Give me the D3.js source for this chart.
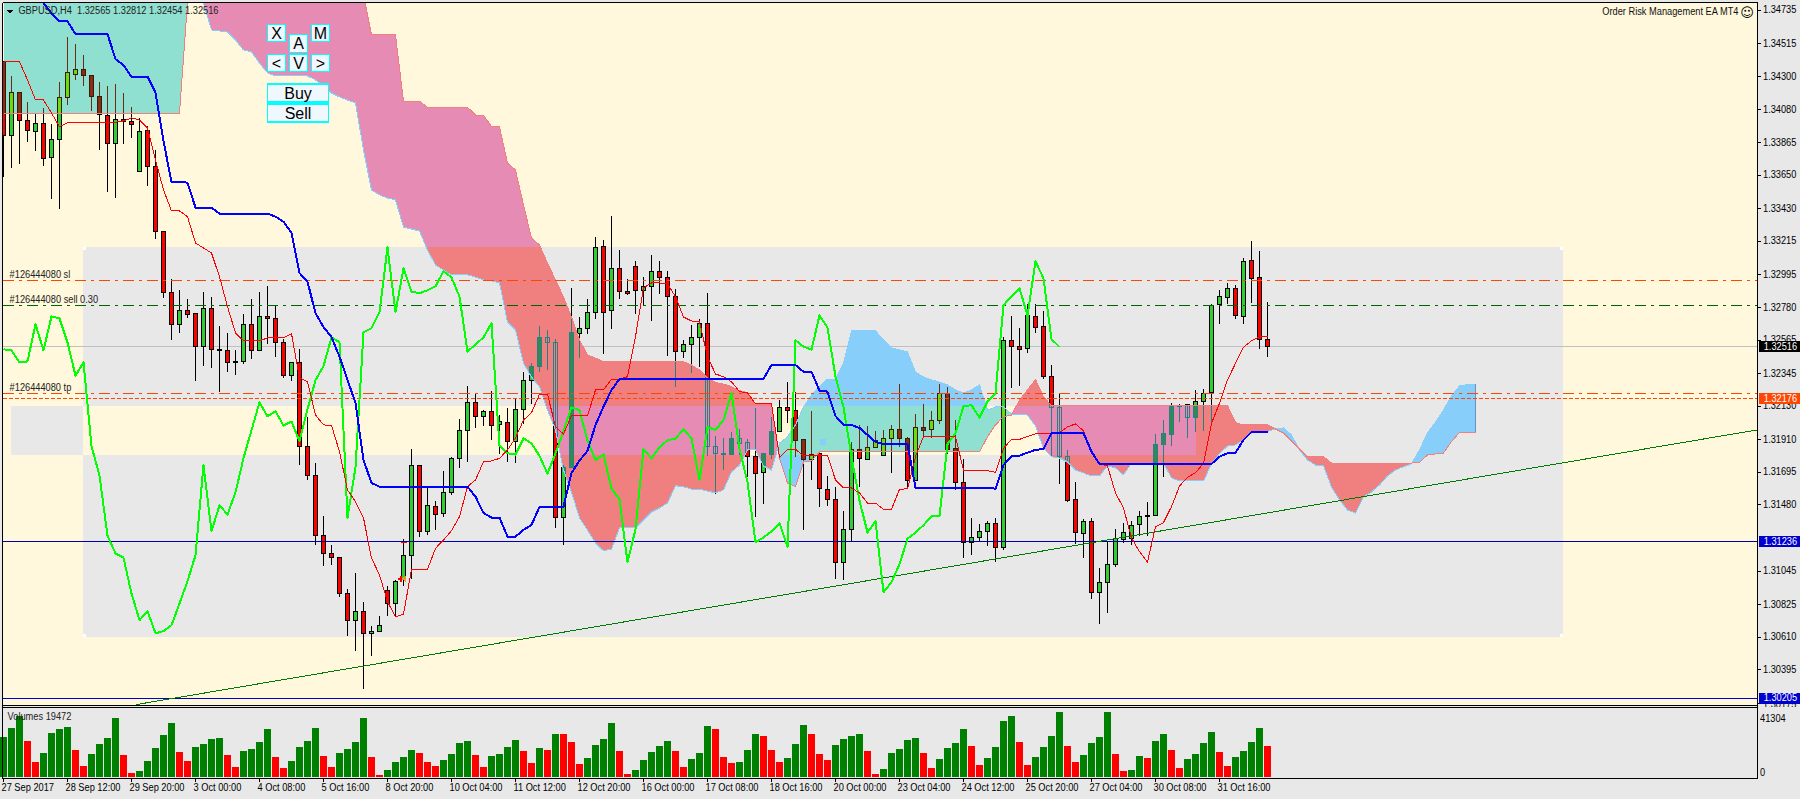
<!DOCTYPE html>
<html><head><meta charset="utf-8">
<style>
html,body{margin:0;padding:0;background:#e8e8e8;overflow:hidden}
svg{display:block}
text{font-family:"Liberation Sans",Arial,sans-serif;font-size:10px;fill:#000}
</style>
<script src="https://cdn.jsdelivr.net/npm/d3@7/dist/d3.min.js"></script>
</head><body>
<svg id="c" width="1800" height="799"></svg>
<script>
// All prices below are in points (1/100000).
const opens=[134393,133906,134191,134005,133932,133987,133763,133882,134158,134310,134342,134303,134165,134038,133856,134013,134000,133671,133941,133704,133277,132875,132665,132757,132737,132520,132768,132500,132492,132415,132421,132665,132494,132717,132704,132546,132327,
132415,131863,131672,131277,131159,131132,130896,130718,130777,130632,130646,130915,130828,130994,131146,131738,131303,131468,131422,131560,131784,131968,132152,132060,132093,132007,132021,131896,132106,132299,132387,
132579,132547,131393,131724,132604,132639,132744,133178,132757,133033,132882,133047,132887,132913,133014,132974,132849,132485,132533,132579,132672,131862,131816,131808,131915,131889,131797,131691,131810,131961,132119,132099,131904,131777,131812,131579,131514,131099,131316,131843,
131777,131856,131803,131915,131974,131915,131639,131988,131974,132034,132211,131849,131626,131231,131262,131301,131356,131198,132560,132520,132505,132718,132652,132323,132119,131795,131514,131290,
131369,130902,130968,131086,131251,131257,131347,131400,131407,131876,131940,132126,132135,132051,132157,132216,132795,132841,132902,132716,133086,132975,132565];
const highs=[134393,134305,134191,134134,134049,134092,133987,134263,134560,134513,134437,134303,134263,134237,134250,134191,134099,134027,133974,133816,133283,132967,132891,132836,132742,132878,132851,132660,132608,132496,132737,132838,132884,132921,132790,132573,132415,
132503,132056,131753,131404,131214,131132,130929,131029,130839,130681,130746,130944,130983,131253,131845,131738,131597,131503,131705,131797,132043,132260,132209,132106,132227,132073,132115,132176,132352,132415,132659,
132632,132573,131744,132908,132718,132832,133246,133226,133384,133154,132968,133082,132981,133121,133082,133022,132902,132562,132661,132700,132876,131935,131917,131957,131981,131911,132115,131816,132058,132167,132286,132222,131904,132097,131816,131667,131601,131437,131893,132009,
132001,131963,131970,132003,132277,131928,132075,132141,132097,132277,132253,132040,131784,131395,131356,131376,131395,132584,132720,132645,132799,132799,132759,132402,132209,131838,131628,131389,
131396,131062,131240,131323,131363,131371,131439,131497,131944,132036,132150,132146,132139,132233,132240,132799,132891,132937,132929,133106,133214,133148,132812];
const lows=[133636,133695,133720,133867,133807,133709,133492,133426,134108,134274,134237,134075,133814,133538,133498,133853,133895,133671,133577,133228,132840,132564,132610,132709,132294,132393,132380,132222,132353,132334,132406,132443,132494,132540,132452,132316,132294,
131740,131641,131214,131078,131082,130871,130615,130518,130268,130483,130646,130749,130744,130944,130994,131266,131279,131312,131400,131547,131720,131762,131983,131996,131904,131812,131760,131755,132014,132146,132352,
132365,131327,131215,131724,132446,132604,132702,132476,132636,132832,132860,132733,132797,132689,132869,132463,132255,132446,132345,132387,131805,131549,131707,131808,131810,131663,131400,131483,131783,131959,132018,131794,131312,131645,131465,131472,130992,130983,131240,131601,
131773,131856,131803,131691,131860,131586,131639,131926,131920,132012,131817,131577,131130,131148,131235,131207,131104,131183,132248,132262,132479,132608,132308,131795,131617,131496,131220,131128,
130860,130696,130768,131071,131229,131214,131277,131275,131407,131663,131865,132025,131918,131961,131966,132010,132670,132799,132703,132670,132806,132503,132454];
const closes=[133906,134191,134005,133941,133987,133755,133882,134158,134323,134340,134301,134163,134044,133856,134013,133998,133978,133935,133704,133277,132873,132665,132757,132731,132520,132768,
132500,132494,132415,132421,132665,132494,132717,132704,132546,132327,132415,131863,131670,131275,131157,131130,130893,130718,130777,130632,130646,130685,130828,130975,131146,131738,131303,131475,131413,131560,131784,131968,132152,132060,132093,131999,132025,131896,132106,132297,132389,132580,
132547,131393,131724,132612,132639,132744,133172,132744,133033,132880,132869,132889,132915,133014,132974,132847,132485,132533,132579,132672,131865,131816,131808,131915,131882,131799,131683,131816,131961,132119,132099,131900,131772,131808,131584,131514,131099,131316,131843,131783,
131856,131902,131913,131974,131915,131639,131988,131970,132034,132211,131845,131626,131231,131262,131303,131356,131198,132560,132518,132498,132724,132643,132321,132119,131795,131505,131295,131369,
130902,130968,131086,131255,131295,131343,131402,131404,131876,131948,132126,132133,132051,132157,132211,132790,132850,132902,132722,133080,132966,132567,132516];
const kijun=[null,null,null,null,null,134779,134711,134659,134659,134575,134575,134575,134575,134575,134409,134371,134294,134294,134294,134189,133871,133601,133601,133597,133432,133432,133432,133393,133393,133393,133393,133393,133393,133393,133373,133340,133266,133003,132945,132739,132647,132582,132452,132299,132147,131772,131621,
131597,131597,131597,131597,131597,131597,131597,131597,131597,131597,131597,131597,131531,131423,131393,131393,131268,131268,131312,131345,131463,131463,131465,131465,131687,131768,131833,132003,132123,132233,
132305,132305,132305,132305,132305,132305,132305,132305,132305,132305,132305,132305,132305,132305,132305,132305,132305,132305,132305,132397,132397,132397,132397,132353,132353,132228,132222,132062,132003,132003,131983,131937,131891,131877,131877,131877,131877,
131590,131590,131590,131590,131590,131590,131590,131590,131590,131590,131583,131739,131796,131801,131820,131840,131843,131950,131950,131950,131950,131950,131827,
131746,131746,131746,131746,131746,131746,131746,131746,131746,131746,131746,131746,131746,131746,131746,131794,131816,131820,131904,131956,131956,131956];
const tenkan=[134393,134393,134393,134273,134141,134141,134055,133965,133992,133994,133994,133994,133994,133994,133994,134003,134023,134009,133957,133746,133549,133411,133411,133373,133200,133167,133134,132978,132781,132608,132557,132557,132557,132575,132575,132577,132603,132312,132287,132068,132003,132000,131827,131575,131498,131391,131127,131016,130840,130741,130757,131053,131053,131053,131191,131246,131307,131399,131597,131641,131761,131766,131783,131838,131917,132035,132083,132205,132205,
131991,131943,132062,132062,132062,132233,132233,132303,132305,132320,132584,132904,132937,132937,132930,132847,132713,132687,132682,132452,132338,132320,132287,132222,132215,132141,132141,132141,131790,131843,131843,131799,131803,131805,131800,131641,131588,131588,131555,131489,131489,131448,131448,131579,131583,131794,
131926,131926,131926,131926,131926,131706,131706,131706,131702,131691,131849,131908,131908,131926,131945,131948,131950,131952,131991,132009,131965,131818,131746,131733,131555,131456,131259,131169,131101,131333,131360,131465,131601,131658,131689,131750,132014,132145,132299,132408,132514,132557,132584,132584];
const chikou=[132500,132494,132415,132421,132665,132494,132717,132704,132546,132327,132415,131863,131670,131275,131157,131130,130893,130718,130777,130632,130646,130685,130828,130975,131146,131738,131303,131475,131413,131560,131784,131968,132152,132060,132093,131999,132025,131896,132106,132297,132389,132580,
132547,131393,131724,132612,132639,132744,133172,132744,133033,132880,132869,132889,132915,133014,132974,132847,132485,132533,132579,132672,131865,131816,131808,131915,131882,131799,131683,131816,131961,132119,132099,131900,131772,131808,131584,131514,131099,131316,131843,131783,
131856,131902,131913,131974,131915,131639,131988,131970,132034,132211,131845,131626,131231,131262,131303,131356,131198,132560,132518,132498,132724,132643,132321,132119,131795,131505,131295,131369,
130902,130968,131086,131255,131295,131343,131402,131404,131876,131948,132126,132133,132051,132157,132211,132790,132850,132902,132722,133080,132966,132567,132516];
const spanA=[
135000,135000,135000,135000,135000,135000,135000,135000,135000,135000,
135000,135000,135000,135000,135000,135000,135000,135000,135000,135000,
135000,135000,135000,135000,135000,134779,134602,134595,134588,134536,
134470,134457,134384,134319,134299,134299,134299,134299,134299,134273,
134233,134187,134161,134141,134121,133812,133549,133516,133496,133483,
133305,133292,133279,133154,133055,133022,132990,132990,132990,132976,
132957,132950,132937,132680,132628,132410,132318,132253,132101,131970,
131706,131562,131391,131312,131226,131175,131185,131325,131325,131325,
131377,131430,131456,131489,131603,131595,131581,131581,131568,131555,
131575,131693,131739,131838,131838,131733,131706,131884,131924,132003,
132121,132200,132253,132305,132305,132410,132621,132621,132621,132621,
132562,132509,132496,132483,132351,132318,132299,132285,132266,132233,
132213,132233,132266,132101,132121,132121,132075,132070,132068,131996,
131851,131794,131785,131759,131706,131687,131667,131667,131733,131720,
131674,131752,131752,131752,131752,131752,131654,131634,131634,131634,
131634,131746,131815,131864,131871,131904,131950,131956,131960,131976,
131983,131937,131838,131772,131739,131733,131595,131509,131443,131423,
131529,131562,131608,131667,131706,131728,131746,131838,131950,132022,
132101,132193,132259,132269,132272];
const spanB=[
134055,134055,134055,134055,134055,134055,134055,134055,134055,134055,
134055,134055,134055,134055,134055,134055,134055,134055,134055,134055,
134055,134055,134055,134779,135000,135000,135000,135000,135000,135000,
135000,135000,135000,135000,135000,135000,135000,135000,135000,135000,
135000,135000,135000,135000,135000,134832,134569,134569,134569,134569,
134134,134134,134134,134093,134093,134093,134093,134093,134093,134042,
134042,133965,133965,133726,133680,133450,133233,133187,133068,132957,
132845,132713,132562,132463,132443,132419,132419,132419,132419,132419,
132419,132419,132419,132419,132419,132419,132397,132364,132312,132281,
132272,132255,132228,132215,132141,132141,132141,131785,131621,131595,
131759,131766,131825,131825,131825,131825,131825,131825,131825,131825,
131825,131825,131825,131825,131825,131825,131825,131825,131825,131825,
131825,131825,131825,131925,132003,132057,132068,132167,132233,132302,
132187,132131,132131,132131,132131,132131,132131,132131,132131,132131,
132131,132131,132131,132131,132131,132131,132131,132131,132131,132131,
132131,132131,132131,132131,132018,132003,132003,132003,132003,131976,
131950,131897,131845,131794,131794,131794,131752,131752,131752,131752,
131752,131752,131752,131752,131752,131752,131752,131757,131805,131812,
131818,131893,131954,131954,131954];
const volumes=[25250,30680,38190,22540,9390,15030,27550,30050,31310,16900,6890,14400,20660,24420,36940,13770,2500,3760,10020,18160,26300,33810,15650,10020,18780,20660,23790,24420,13770,6260,16280,17530,21910,30050,12520,5630,10020,18780,22540,30680,13150,6260,15030,17530,21910,36940,12520,1250,4380,9390,12520,16900,15030,9390,6890,10640,14400,21290,22540,13770,6260,13150,14400,18780,23170,16280,8770,18160,16900,26920,26710,21910,8140,11900,20040,
23790,33810,16280,1880,4380,10640,15650,19410,22540,16280,6260,11270,15030,31930,30050,12520,8770,9390,16900,26920,25670,16900,9390,11900,20660,32560,26920,14400,10640,20040,23790,25670,26920,16280,1880,5010,15030,17530,23170,24420,15030,5630,11270,18160,21290,30050,19410,7510,11900,18780,35060,38190,21910,7510,12520,18780,25670,40700,19410,9390,13770,21290,25040,40700,14400,3760,4380,13150,11900,22540,26920,16900,5630,11270,14400,21290,28170,15650,6890,12520,16280,21910,30680,19472];
const volumeMax=41304;
const priceTicks=[134735,134515,134300,134080,133865,133650,133430,133215,132995,132780,132565,132345,132130,131910,131695,131480,131045,130825,130610,130395,130175];
const timeIndex=[0,8,16,24,32,40,48,56,64,72,80,88,96,104,112,120,128,136,144,152];
const timeLabels=["27 Sep 2017","28 Sep 12:00","29 Sep 20:00","3 Oct 00:00","4 Oct 08:00","5 Oct 16:00","8 Oct 20:00","10 Oct 04:00","11 Oct 12:00","12 Oct 20:00","16 Oct 00:00","17 Oct 08:00","18 Oct 16:00","20 Oct 00:00","23 Oct 04:00","24 Oct 12:00","25 Oct 20:00","27 Oct 04:00","30 Oct 08:00","31 Oct 16:00"];
const levelPrices={sl:132954,sell:132790,tp:132211,ask:132176,bid:132516,low:131236,floor:130205};
const trendBars=[16.6,219.2], trendPrices=[130163,131970];
const zoneA={b0:9.94,b1:194.94,p0:133174,p1:130610};
const zoneB={b0:0.94,b1:149.06,p0:132128,p1:131805};

const W=1800,H=799,L=3,R=1757.5,T=3,MB=705;
const x=d3.scaleLinear().domain([0,158]).range([3.5,1267.5]);
const y=d3.scaleLinear().domain([134735,130395]).range([9.7,669.3]);
const v=d3.scaleLinear().domain([0,volumeMax]).range([777,711]);
const snap=n=>Math.round(n-0.5)+0.5;
const svg=d3.select('#c').style('shape-rendering','crispEdges');
svg.append('rect').attr('width',W).attr('height',H).attr('fill','#e8e8e8');
const defs=svg.append('defs');
defs.append('clipPath').attr('id','main').append('rect').attr('x',L).attr('y',T).attr('width',R-L).attr('height',MB-T);

// Zones: the two rectangles toggle the backdrop where they overlap.
const zx=(z)=>[x(z.b0),x(z.b1)], zy=(z)=>[y(z.p0),y(z.p1)];
const [ax0,ax1]=zx(zoneA),[ay0,ay1]=zy(zoneA),[bx0,bx1]=zx(zoneB),[by0,by1]=zy(zoneB);
const grayRects=[[ax0,ay0,ax1,by0],[ax0,by1,ax1,ay1],[bx1,by0,ax1,by1],[bx0,by0,ax0,by1]];
const creamRects=[[0,0,W,ay0],[0,ay1,W,H],[0,ay0,ax0,by0],[0,by1,ax0,ay1],[0,by0,bx0,by1],[ax1,ay0,W,ay1],[ax0,by0,bx1,by1]];
const mkClip=(id,rs)=>defs.append('clipPath').attr('id',id).selectAll('rect').data(rs).join('rect')
  .attr('x',d=>d[0]).attr('y',d=>d[1]).attr('width',d=>d[2]-d[0]).attr('height',d=>d[3]-d[1]);
mkClip('gray',grayRects);mkClip('cream',creamRects);

const plot=svg.append('g').attr('clip-path','url(#main)');
plot.append('rect').attr('x',L).attr('y',T).attr('width',R-L).attr('height',MB-T).attr('fill','#fff8dc');
plot.append('g').selectAll('rect').data(grayRects).join('rect')
  .attr('x',d=>d[0]).attr('y',d=>d[1]).attr('width',d=>d[2]-d[0]).attr('height',d=>d[3]-d[1]).attr('fill','#e8e8e8');
plot.append('g').selectAll('rect').data([[ax0,ay0],[ax1-3,ay0],[ax0,ay1-3],[ax1-3,ay1-3]]).join('rect')
  .attr('x',d=>d[0]).attr('y',d=>d[1]).attr('width',3).attr('height',3).attr('fill','#fff');

// horizontal levels
const hline=(p,c,dash,w)=>plot.append('line').attr('x1',L).attr('x2',R).attr('y1',snap(y(p))).attr('y2',snap(y(p)))
  .attr('stroke',c).attr('stroke-width',w||1).attr('stroke-dasharray',dash||null);
hline(levelPrices.bid,'#c0c0c0');

// cloud runs with crossing points
const bullRuns=[],bearRuns=[];
let run=[],state=null;
spanA.forEach((a,i)=>{
  const b=spanB[i],s=a>b;
  if(state!==null&&s!==state){
    const pa=spanA[i-1],pb=spanB[i-1],t=(pb-pa)/((a-pa)-(b-pb));
    const m={i:i-1+t,a:pa+(a-pa)*t,b:pa+(a-pa)*t};
    run.push(m);(state?bullRuns:bearRuns).push(run);run=[m];
  }
  run.push({i,a,b});state=s;
});
(state?bullRuns:bearRuns).push(run);
const area=d3.area().x(d=>x(d.i)).y0(d=>y(d.a)).y1(d=>y(d.b));
const bullD=bullRuns.map(area).join(''),bearD=bearRuns.map(area).join('');
defs.append('clipPath').attr('id','inBull').append('path').attr('d',bullD);
defs.append('clipPath').attr('id','inBear').append('path').attr('d',bearD);

const candles=closes.map((c,i)=>({i,o:opens[i],h:highs[i],l:lows[i],c,up:c>=opens[i]}));
function drawCandles(g,st){
  const s=g.selectAll('g').data(candles).join('g');
  s.append('line').attr('x1',d=>x(d.i)).attr('x2',d=>x(d.i)).attr('y1',d=>snap(y(d.h))).attr('y2',d=>snap(y(d.l))).attr('stroke',st.wick);
  s.append('rect').attr('x',d=>x(d.i)-2).attr('width',4)
    .attr('y',d=>snap(y(Math.max(d.o,d.c))))
    .attr('height',d=>Math.max(1,Math.round(Math.abs(y(d.o)-y(d.c)))))
    .attr('fill',d=>d.up?st.up:st.down).attr('stroke',st.line);
}
drawCandles(plot.append('g'),{wick:'#000',line:'#000',up:'#32cd32',down:'#ff0000'});

const paint=(d,clip,fill)=>plot.append('g').attr('clip-path',`url(#${clip})`).append('path').attr('d',d).attr('fill',fill);
paint(bullD,'cream','#8fe0d0');paint(bullD,'gray','#87cefa');
paint(bearD,'cream','#e68cb4');paint(bearD,'gray','#f08080');
drawCandles(plot.append('g').attr('clip-path','url(#inBull)'),{wick:'#6b2b10',line:'#3c1a08',up:'#66dd11',down:'#8b2c14'});
drawCandles(plot.append('g').attr('clip-path','url(#inBear)'),{wick:'#2a7f85',line:'#2a7f85',up:'#2e8b57',down:'none'});

const ln=d3.line().defined(d=>d!=null).x((d,i)=>x(i)).y(d=>y(d));
const trace=(arr,c,w)=>plot.append('path').attr('d',ln(arr)).attr('fill','none').attr('stroke',c).attr('stroke-width',w).attr('stroke-linejoin','round');
trace(spanA,'#87cefa',1);trace(spanB,'#f08080',1);
plot.append('line').attr('x1',x(184)).attr('x2',x(184)).attr('y1',y(spanA[184])).attr('y2',y(spanB[184])).attr('stroke','#6a93b8');

hline(levelPrices.sl,'#ff4500','11,5,3,5');
hline(levelPrices.sell,'#006400','11,5,3,5');
hline(levelPrices.tp,'#ff4500','11,5,3,5');
hline(levelPrices.ask,'#ff4500','4,2');
hline(levelPrices.low,'#0000aa');
hline(levelPrices.floor,'#0000cd');
plot.append('line').attr('x1',x(trendBars[0])).attr('x2',x(trendBars[1])).attr('y1',y(trendPrices[0])).attr('y2',y(trendPrices[1])).attr('stroke','#007a00');

trace(chikou,'#00ff00',2);
trace(tenkan,'#ff0000',1);
trace(kijun,'#0000ff',2);

// small order markers
const mk=plot.append('g');
mk.append('path').attr('d',`M${x(49.7)-3},${y(130990)-1}h6v2h-6zM${x(49.7)-1},${y(130990)-3}h2v6h-2z`).attr('fill','#ff0000');
mk.append('path').attr('d',d3.line()([[x(50)+2,y(130990)-3],[x(50)+2,y(130990)+3],[x(50)-2,y(130990)]])+'Z').attr('fill','#e0a020');
mk.append('line').attr('x1',x(50)-3).attr('x2',x(50)+3).attr('y1',y(131230)).attr('y2',y(131230)).attr('stroke','#ff0000');
mk.append('rect').attr('x',x(102)).attr('y',y(131910)).attr('width',6).attr('height',6).attr('fill','#87cefa');

// volumes
const vol=svg.append('g');
vol.selectAll('rect').data(volumes).join('rect')
  .attr('x',(d,i)=>x(i)-3.5).attr('width',7)
  .attr('y',d=>Math.round(v(d))).attr('height',d=>v(0)-Math.round(v(d)))
  .attr('fill',(d,i)=>i===0||d>volumes[i-1]?'#008000':'#ff0000');

// axes
const fmt=p=>(p/1e5).toFixed(5);
const ay=svg.append('g').attr('transform',`translate(${R-0.5},0)`).call(d3.axisRight(y).tickValues(priceTicks).tickFormat(fmt).tickSize(4).tickPadding(2));
ay.select('.domain').remove();
ay.selectAll('text').style('font-size','10px').style('font-family','"Liberation Sans"').attr('dy',d=>d===130175?'.5em':'.32em');
const axT=svg.append('g').attr('transform','translate(-1,778)').call(d3.axisBottom(x).tickValues(timeIndex).tickFormat((d,k)=>timeLabels[k]).tickSize(4));
axT.select('.domain').remove();
axT.selectAll('text').attr('text-anchor','start').attr('x',-1.5).attr('y',12.5).attr('dy',0).style('font-size','10px').style('font-family','"Liberation Sans"');
// lower panel background hides the foot of the clipped price label, as on the platform
svg.append('rect').attr('x',1758).attr('y',707).attr('width',42).attr('height',72).attr('fill','#e8e8e8');
const axV=svg.append('g').attr('transform',`translate(${R+2.5},0)`).call(d3.axisRight(v).tickValues([volumeMax,0]).tickFormat(d3.format('d')).tickSize(0).tickPadding(0));
axV.select('.domain').remove();
axV.selectAll('text').style('font-size','10px').style('font-family','"Liberation Sans"').attr('dy',d=>d?'1.0em':'-0.2em');

// frame
const frame=[[2.5,2.5,2.5,778.5],[2.5,2.5,1757.5,2.5],[1757.5,2.5,1757.5,778.5],[2.5,705.5,1757.5,705.5],[2.5,707.5,1757.5,707.5],[2.5,778.5,1757.5,778.5]];
svg.append('g').selectAll('line').data(frame).join('line').attr('x1',d=>d[0]).attr('y1',d=>d[1]).attr('x2',d=>d[2]).attr('y2',d=>d[3]).attr('stroke','#000');

// coloured price tags
const tags=[[levelPrices.bid,'#000000'],[levelPrices.ask,'#ff4500'],[levelPrices.low,'#0000cd'],[levelPrices.floor,'#0000cd']];
const tg=svg.append('g').selectAll('g').data(tags).join('g').attr('transform',d=>`translate(0,${y(d[0])})`);
tg.append('rect').attr('x',1758.5).attr('width',41.5).attr('y',-5.5).attr('height',11).attr('fill',d=>d[1]);
tg.append('text').attr('x',1763.7).attr('dy','.33em').style('fill','#fff').text(d=>fmt(d[0]));

// labels
const note=(t,xp,yp,anchor)=>svg.append('text').attr('x',xp).attr('y',yp).attr('text-anchor',anchor||'start').attr('dy','.33em').text(t);
note('GBPUSD,H4  1.32565 1.32812 1.32454 1.32516',18.4,10.7).style('fill','#222').style('white-space','pre');
svg.append('path').attr('d','M6.5,9.5h7l-3.5,4z').attr('fill','#000');
note('#126444080 sl',9.6,274.5).style('fill','#222');
note('#126444080 sell 0.30',9.6,299.5).style('fill','#222');
note('#126444080 tp',9.6,387.5).style('fill','#222');
note('Volumes 19472',7.6,716.7).style('fill','#222');
note('Order Risk Management EA MT4',1738.5,11.7,'end').style('fill','#111');
// The screen font is narrow: squeeze 10px glyphs horizontally.
svg.selectAll('text').each(function(){
  this.setAttribute('textLength',(this.getComputedTextLength()*0.925).toFixed(1));
  this.setAttribute('lengthAdjust','spacingAndGlyphs');
});
note('☺',1747,12.5,'middle').style('font-size','13px').style('font-family','"DejaVu Sans"');

// buttons
const buttons=[['X',267,24,19,18],['A',289,34,19,19],['M',311,24,19,18],['<',267,54,19,18],['V',289,54,19,18],['>',311,54,19,18],['Buy',267,83.5,62,19],['Sell',267,103.5,62,19]];
const bt=svg.append('g').selectAll('g').data(buttons).join('g');
bt.append('rect').attr('x',d=>d[1]+.5).attr('y',d=>d[2]+.5).attr('width',d=>d[3]-1).attr('height',d=>d[4]-1).attr('fill','#f0f8ff').attr('stroke','#00ffff').attr('stroke-width',1.5);
bt.append('text').attr('x',d=>d[1]+d[3]/2).attr('y',d=>d[2]+d[4]/2).attr('dy','.36em').attr('text-anchor','middle').style('font-size','16px').text(d=>d[0]);
</script>
</body></html>
